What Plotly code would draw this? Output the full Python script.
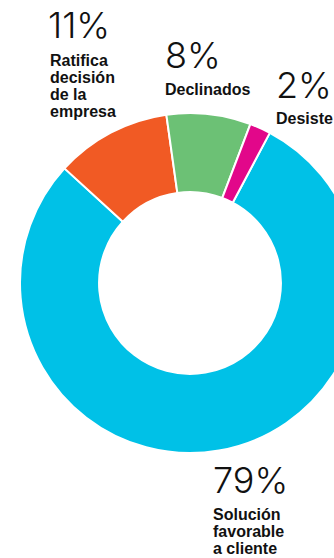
import plotly.graph_objects as go

# Data
categories = ["Solución favorable a cliente", "Ratifica decisión de la empresa", "Declinados", "Desiste"]
values = [79, 11, 8, 2]
pct_labels = ["79%", "11%", "8%", "2%"]
colors = ["#00C1E7", "#F15A24", "#6CC175", "#E2078A"]
label_lines = [
    ["Solución", "favorable", "a cliente"],
    ["Ratifica", "decisión", "de la", "empresa"],
    ["Declinados"],
    ["Desiste"],
]

W, H = 380, 558

fig = go.Figure(go.Pie(
    labels=categories,
    values=values,
    marker=dict(colors=colors, line=dict(color="white", width=2)),
    hole=0.535,
    sort=False,
    direction="clockwise",
    rotation=28,
    textinfo="none",
    hoverinfo="label+percent",
    showlegend=False,
    domain=dict(x=[20 / W, 360 / W], y=[1 - 453 / H, 1 - 113 / H]),
))

# text placement (pixel positions of left edge and cap middle)
num_pos = [(213, 479.5), (48, 25.5), (165, 54.5), (276, 85)]
lab_pos = [(213, 514), (50, 60), (165, 89), (276, 119)]
line_gap = 17.3

big_font = dict(family="Inter, Roboto, Liberation Sans", size=36, color="#111111", weight=300)
lab_font = dict(family="Liberation Sans, Arial", size=16, color="#111111", weight="bold")

ann = []
for i in range(len(values)):
    px, py = num_pos[i]
    ann.append(dict(text=pct_labels[i], x=px / W - 1 / W, y=1 - py / H, xref="paper", yref="paper",
                    xanchor="left", yanchor="middle", showarrow=False, font=big_font, borderpad=0))
    lx, ly = lab_pos[i]
    for j, line in enumerate(label_lines[i]):
        ann.append(dict(text=line, x=lx / W - 1 / W, y=1 - (ly + j * line_gap) / H, xref="paper", yref="paper",
                        xanchor="left", yanchor="middle", showarrow=False, font=lab_font, borderpad=0))

fig.update_layout(
    width=W, height=H, autosize=False,
    margin=dict(l=0, r=0, t=0, b=0),
    paper_bgcolor="white", plot_bgcolor="white",
    annotations=ann,
)

fig.write_html("out.html", config={"displayModeBar": False},
               post_script="document.body.style.overflow='hidden';document.documentElement.style.overflow='hidden';document.body.style.margin='0';")
